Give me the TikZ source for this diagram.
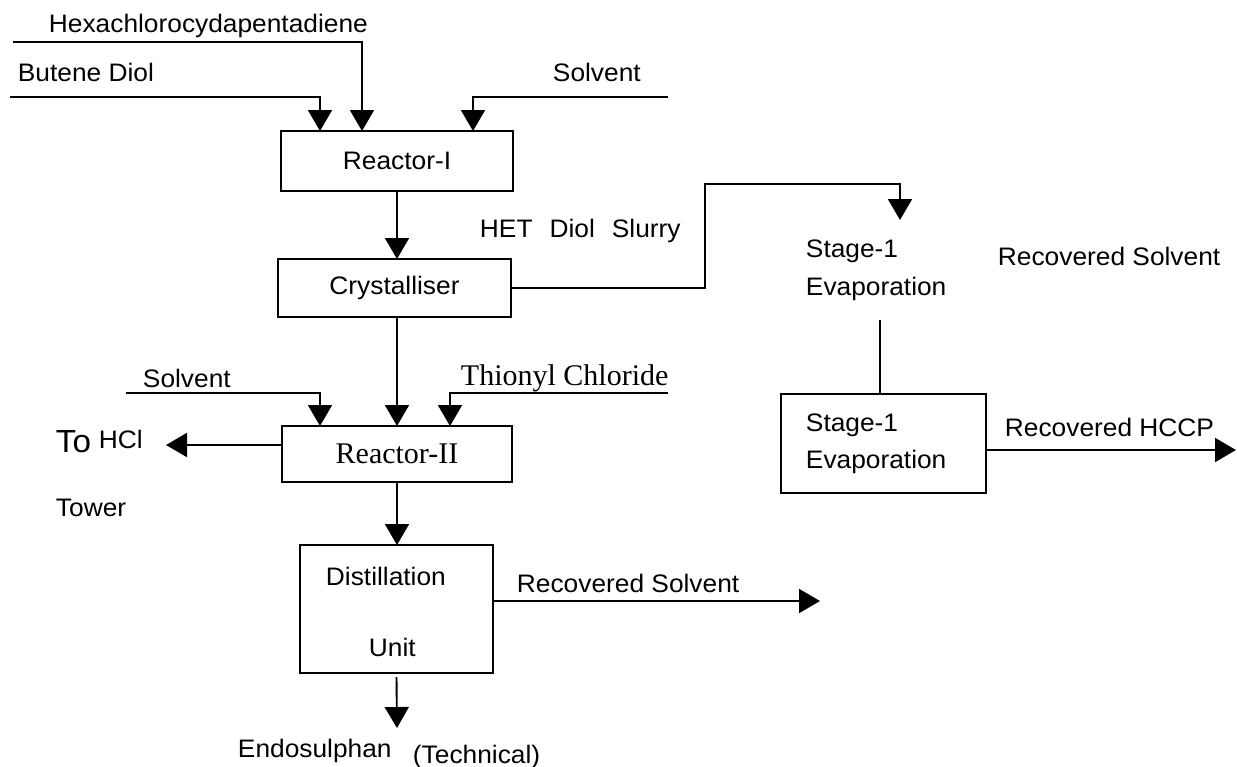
\documentclass[tikz,border=0pt]{standalone}
\usepackage{fontspec}
\setmainfont{Liberation Sans}[FakeStretch=1.04]
\newfontfamily\serifrm{Liberation Serif}
\usetikzlibrary{arrows.meta}
\newcommand{\lblfont}{\fontsize{25.3}{30}\selectfont}
\newcommand{\serfont}{\serifrm\fontsize{30}{34}\selectfont}
\newcommand{\tofont}{\fontsize{32}{36}\selectfont}
\begin{document}
\begin{tikzpicture}[x=1pt,y=-1pt,line width=1.9pt,
  flow/.style={-{Triangle[width=24pt,length=21pt]}},
  unitbox/.style={draw,line width=1.9pt,inner sep=0pt,outer sep=0pt,font=\lblfont},
  lbl/.style={inner sep=0pt,anchor=base west,font=\lblfont},
  tlbl/.style={inner sep=0pt,anchor=base west,font=\serfont}]
\fill[white] (0,0) rectangle (1237,766);
\useasboundingbox (0,0) rectangle (1237,766);

% texts and units
\node[lbl] (hex) at (48,32) {Hexachlorocydapentadiene};
\node[lbl] (bdiol) at (17,81) {Butene Diol};
\node[lbl] (sv1) at (552,81) {Solvent};
\node[unitbox,minimum width=232,minimum height=60] (r1) at (397,161) {Reactor-I};
\node[lbl] (het) at (479,237) {HET\hspace{17pt}Diol\hspace{17pt}Slurry};
\node[unitbox,minimum width=233,minimum height=58] (cr) at (394.5,288) {Crystalliser};
\node[lbl] (ev1a) at (805,257) {Stage-1};
\node[lbl] (ev1b) at (805,295) {Evaporation};
\node[lbl] (rsv1) at (997,265) {Recovered Solvent};
\node[unitbox,minimum width=205,minimum height=99] (ev2) at (883.5,443.5) {};
\node[lbl] (ev2a) at (805,431) {Stage-1};
\node[lbl] (ev2b) at (805,468) {Evaporation};
\node[lbl] (hccp) at (1004,436) {Recovered HCCP};
\node[lbl] (sv2) at (142,387) {Solvent};
\node[tlbl] (thio) at (460,385) {Thionyl Chloride};
\node[unitbox,minimum width=230,minimum height=56,font=\serfont] (r2) at (397,454) {Reactor-II};
\node[lbl,font=\tofont] (to) at (55,452) {To};
\node[lbl] (hcl) at (98,448) {HCl};
\node[lbl] (tower) at (55,516) {Tower};
\node[unitbox,minimum width=193,minimum height=128] (dist) at (396.5,609) {};
\node[lbl] (dista) at (325,585) {Distillation};
\node[lbl] (distb) at (368,656) {Unit};
\node[lbl] (rsv2) at (516,592) {Recovered Solvent};
\node[lbl] (endo) at (237,757) {Endosulphan};
\node[lbl] (tech) at (412,763) {(Technical)};

% free ends
\coordinate (hexS) at (13,42);
\coordinate (bdS) at (10,97);
\coordinate (sv1S) at (668,97);
\coordinate (slurryTop) at (705,184);
\coordinate (evIn) at (900,220);
\coordinate (evLink) at (880,320);
\coordinate (hccpE) at (1236,450);
\coordinate (sv2S) at (126,393);
\coordinate (thS) at (668,393);
\coordinate (hclE) at (166,445);
\coordinate (rsE) at (820,601);
\coordinate (endoTip) at (397,728);

% connectors
\draw[flow] (hexS) -| ([xshift=81pt]r1.north west);
\draw[flow] (bdS) -| ([xshift=39pt]r1.north west);
\draw[flow] (sv1S) -| ([xshift=192pt]r1.north west);
\draw[flow] (r1.south) -- (r1.south |- cr.north);
\draw[flow] (cr.east) -| (slurryTop) -| (evIn);
\draw (evLink) -- (evLink |- ev2.north);
\draw[flow] (ev2.east |- hccpE) -- (hccpE);
\draw[flow] (sv2S) -| ([xshift=38pt]r2.north west);
\draw[flow] (thS) -| ([xshift=168pt]r2.north west);
\draw[flow] (cr.south -| r2.north) -- (r2.north);
\draw[flow] (r2.west |- hclE) -- (hclE);
\draw[flow] (r2.south) -- (r2.south |- dist.north);
\draw[flow] (dist.east |- rsE) -- (rsE);
\draw[flow] ([yshift=-4pt]dist.south) -- (endoTip);
\end{tikzpicture}
\end{document}
